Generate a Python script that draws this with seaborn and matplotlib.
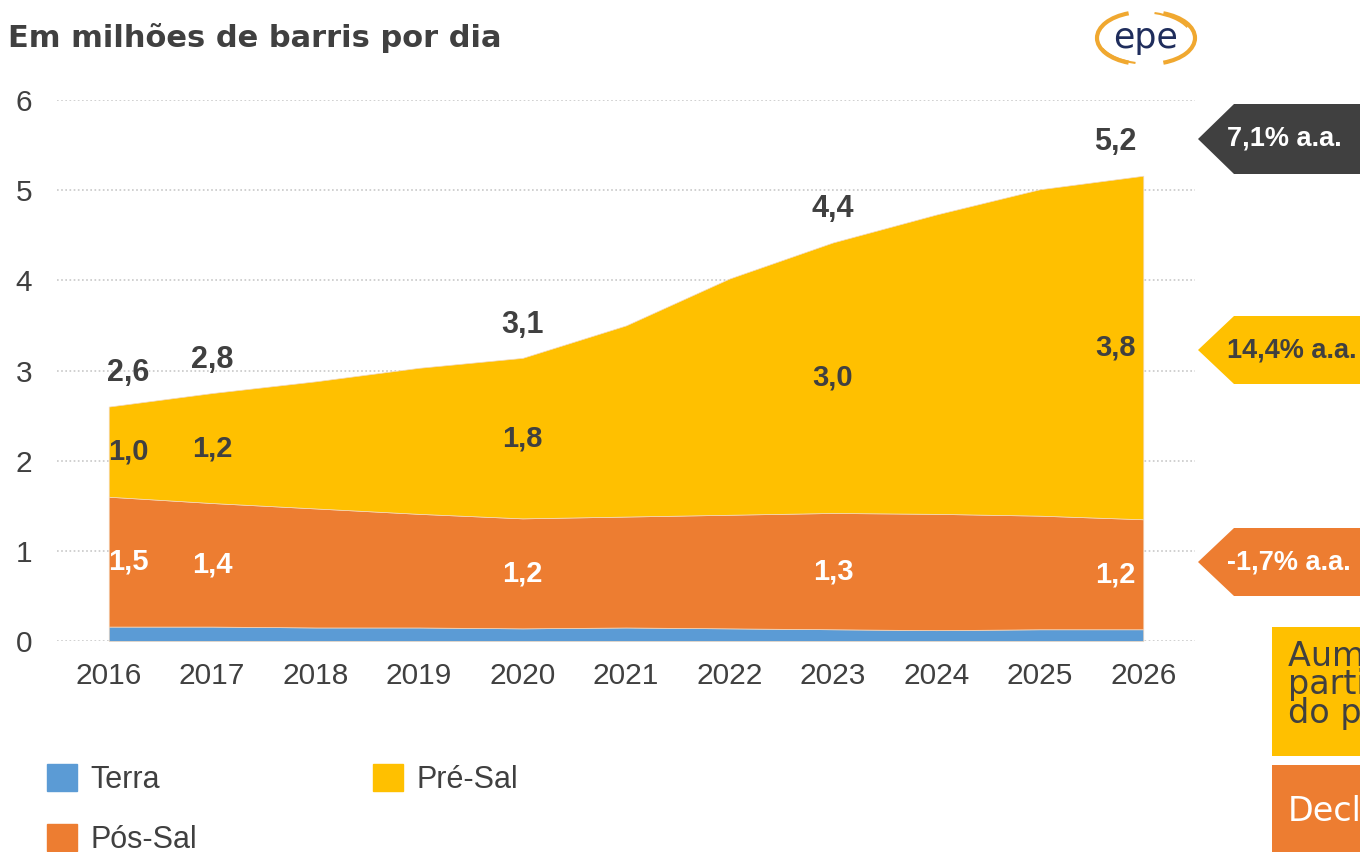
import pandas as pd
import matplotlib
matplotlib.use("Agg")
import matplotlib.pyplot as plt
from matplotlib.patches import Polygon, Rectangle, Arc, Patch
import seaborn as sns

# dados (milhões de barris por dia)
anos = [2016, 2017, 2018, 2019, 2020, 2021, 2022, 2023, 2024, 2025, 2026]
terra = [0.16, 0.16, 0.15, 0.15, 0.14, 0.15, 0.14, 0.13, 0.12, 0.13, 0.13]
pos_sal = [1.44, 1.37, 1.32, 1.26, 1.22, 1.23, 1.26, 1.29, 1.29, 1.26, 1.22]
pre_sal = [1.00, 1.22, 1.41, 1.62, 1.78, 2.12, 2.62, 3.00, 3.32, 3.62, 3.81]

# rótulos
rot_anos = [2016, 2017, 2020, 2023, 2026]
rot_total = ['2,6', '2,8', '3,1', '4,4', '5,2']
rot_pre = ['1,0', '1,2', '1,8', '3,0', '3,8']
rot_pos = ['1,5', '1,4', '1,2', '1,3', '1,2']
taxas = ['7,1% a.a.', '14,4% a.a.', '-1,7% a.a.']

CINZA = '#404040'
cores = {'Terra': '#5B9BD5', 'Pós-Sal': '#ED7D31', 'Pré-Sal': '#FFC000'}

sns.set_style('white')
plt.rcParams['font.family'] = ['Liberation Sans', 'DejaVu Sans']

df = pd.DataFrame({'Ano': anos, 'Terra': terra, 'Pós-Sal': pos_sal, 'Pré-Sal': pre_sal}).set_index('Ano')
df['Base_pre'] = df['Terra'] + df['Pós-Sal']
df['Total'] = df['Base_pre'] + df['Pré-Sal']

W, H = 1360, 852
def px(x, y):
    return (x / W, 1 - y / H)

fig = plt.figure(figsize=(13.6, 8.52), dpi=100)
ax = fig.add_axes([57 / W, 1 - 641 / H, (1195 - 57) / W, (641 - 100) / H])

ax.stackplot(df.index, df['Terra'], df['Pós-Sal'], df['Pré-Sal'],
             colors=[cores['Terra'], cores['Pós-Sal'], cores['Pré-Sal']],
             edgecolor='#f3d9c0', linewidth=0.5)

ax.set_xlim(2015.5, 2026.5)
ax.set_ylim(0, 6)
ax.set_xticks(anos)
ax.set_yticks(range(7))
ax.set_axisbelow(True)
ax.yaxis.grid(True, linestyle=(0, (1, 1.5)), color='#c8c8c8', linewidth=1.2)
ax.xaxis.grid(False)
sns.despine(ax=ax, left=True, bottom=True)
ax.tick_params(axis='both', labelsize=21.5, colors=CINZA, length=0)
ax.tick_params(axis='y', pad=18)
ax.tick_params(axis='x', pad=15)

# rótulos de dados
for i, ano in enumerate(rot_anos):
    dx = 14 if ano == anos[0] else (-20 if ano == anos[-1] else 0)
    tot = df.loc[ano, 'Total']
    base = df.loc[ano, 'Base_pre']
    ax.annotate(rot_total[i], (ano, tot), xytext=(dx, 24), textcoords='offset points',
                ha='center', va='center', fontsize=22, fontweight='bold', color=CINZA)
    ax.annotate(rot_pre[i], (ano, (base + tot) / 2), xytext=(dx, 0), textcoords='offset points',
                ha='center', va='center', fontsize=21, fontweight='bold', color=CINZA)
    ax.annotate(rot_pos[i], (ano, (df.loc[ano, 'Terra'] + base) / 2), xytext=(dx, 0),
                textcoords='offset points', ha='center', va='center', fontsize=21,
                fontweight='bold', color='white')

# título
fig.text(*px(8, 38), 'Em milhões de barris por dia', fontsize=22, fontweight='bold',
         color=CINZA, family=['DejaVu Sans'], va='center', ha='left')

# logo epe
fig.text(*px(1146, 38), 'epe', fontsize=25, color='#1f2d5c', family=['DejaVu Sans'],
         ha='center', va='center')
for (cx, w, t1, t2, lw) in [(1143, 92, 110, 250, 3), (1149, 92, 290, 70, 3),
                            (1150, 104, 200, 250, 1.5), (1140, 104, 20, 70, 1.5)]:
    fig.add_artist(Arc(px(cx, 38), w / W, 52 / H, theta1=t1, theta2=t2,
                       transform=fig.transFigure, color='#F0A830', lw=lw))

# setas de taxa de crescimento
tags = [(104, 174, '#404040', 'white'), (316, 384, '#FFC000', CINZA), (528, 596, '#ED7D31', 'white')]
for (yt, yb, fc, tc), txt in zip(tags, taxas):
    yc = (yt + yb) / 2
    pts = [px(1198, yc), px(1234, yt), px(1400, yt), px(1400, yb), px(1234, yb)]
    fig.add_artist(Polygon(pts, closed=True, transform=fig.transFigure, facecolor=fc, edgecolor='none'))
    fig.text(*px(1227, yc), txt, fontsize=19.5, fontweight='bold', color=tc, va='center', ha='left')

# caixas de texto à direita (cortadas pela borda, como no original)
fig.add_artist(Rectangle(px(1272, 756), 200 / W, 129 / H, transform=fig.transFigure,
                         facecolor='#FFC000', edgecolor='none'))
fig.add_artist(Rectangle(px(1272, 900), 200 / W, 135 / H, transform=fig.transFigure,
                         facecolor='#ED7D31', edgecolor='none'))
fig.text(*px(1288, 640), 'Aumento da\nparticipação\ndo pré-sal', fontsize=24, color=CINZA,
         family=['DejaVu Sans'], va='top', ha='left', linespacing=0.78)
fig.text(*px(1288, 795), 'Declínio', fontsize=24, color='white',
         family=['DejaVu Sans'], va='top', ha='left')

# legenda
handles = [Patch(color=cores['Terra'], label='Terra'),
           Patch(color=cores['Pós-Sal'], label='Pós-Sal'),
           Patch(color=cores['Pré-Sal'], label='Pré-Sal')]
fig.legend(handles=handles, ncol=2, loc='upper left', bbox_to_anchor=px(47, 764),
           frameon=False, fontsize=22, handlelength=0.98, handleheight=0.98,
           handletextpad=0.45, columnspacing=5.75, labelspacing=0.95,
           borderaxespad=0, borderpad=0, labelcolor=CINZA)

fig.savefig('out.png', dpi=100)
